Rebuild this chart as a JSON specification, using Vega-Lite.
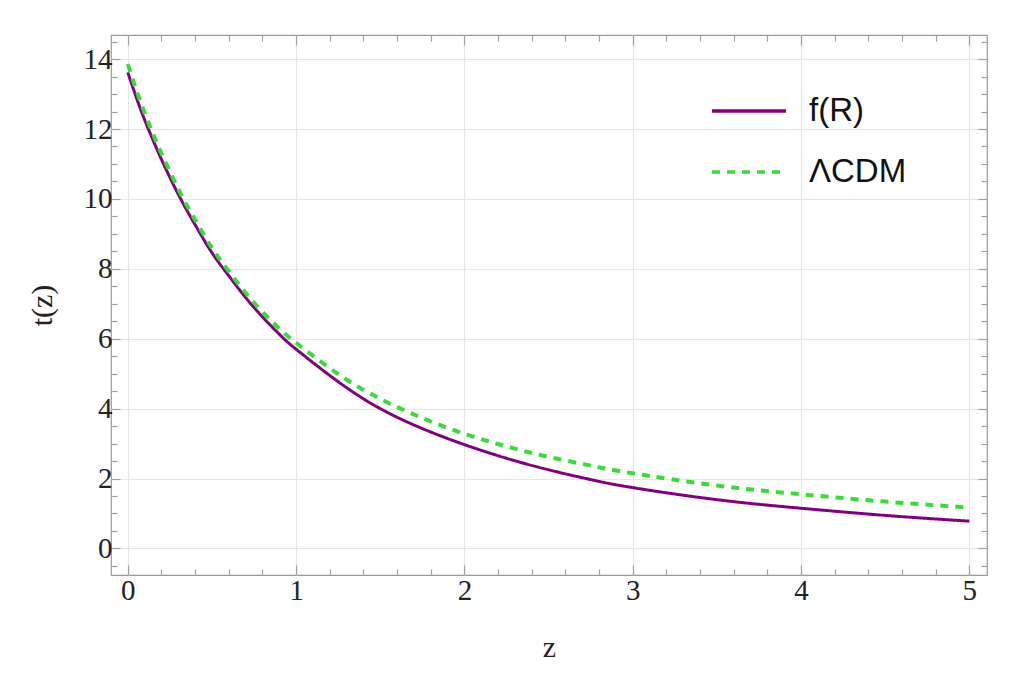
{
  "$schema": "https://vega.github.io/schema/vega-lite/v6.json",
  "width": 876,
  "height": 540,
  "autosize": "none",
  "padding": {"left": 111, "top": 35, "right": 37, "bottom": 101},
  "background": "white",
  "config": {
    "view": {"stroke": "#9a9a9a", "strokeWidth": 1.2},
    "axis": {"domain": false, "tickColor": "#a0a0a0", "tickWidth": 1.2}
  },
  "datasets": {
    "curves": [
      {"series": "f(R)", "z": 0, "t": 13.62},
      {"series": "f(R)", "z": 0.05, "t": 12.91},
      {"series": "f(R)", "z": 0.1, "t": 12.26},
      {"series": "f(R)", "z": 0.15, "t": 11.68},
      {"series": "f(R)", "z": 0.2, "t": 11.13},
      {"series": "f(R)", "z": 0.3, "t": 10.13},
      {"series": "f(R)", "z": 0.4, "t": 9.26},
      {"series": "f(R)", "z": 0.5, "t": 8.46},
      {"series": "f(R)", "z": 0.6, "t": 7.8},
      {"series": "f(R)", "z": 0.75, "t": 6.89},
      {"series": "f(R)", "z": 0.9, "t": 6.13},
      {"series": "f(R)", "z": 1.0, "t": 5.7},
      {"series": "f(R)", "z": 1.25, "t": 4.77},
      {"series": "f(R)", "z": 1.5, "t": 4.0},
      {"series": "f(R)", "z": 1.75, "t": 3.43},
      {"series": "f(R)", "z": 2.0, "t": 2.97},
      {"series": "f(R)", "z": 2.25, "t": 2.58},
      {"series": "f(R)", "z": 2.5, "t": 2.25},
      {"series": "f(R)", "z": 2.75, "t": 1.97},
      {"series": "f(R)", "z": 3.0, "t": 1.74},
      {"series": "f(R)", "z": 3.5, "t": 1.395},
      {"series": "f(R)", "z": 4.0, "t": 1.15},
      {"series": "f(R)", "z": 4.5, "t": 0.945},
      {"series": "f(R)", "z": 5.0, "t": 0.78},
      {"series": "ΛCDM", "z": 0, "t": 13.86},
      {"series": "ΛCDM", "z": 0.05, "t": 13.12},
      {"series": "ΛCDM", "z": 0.1, "t": 12.46},
      {"series": "ΛCDM", "z": 0.15, "t": 11.86},
      {"series": "ΛCDM", "z": 0.2, "t": 11.3},
      {"series": "ΛCDM", "z": 0.3, "t": 10.28},
      {"series": "ΛCDM", "z": 0.4, "t": 9.4},
      {"series": "ΛCDM", "z": 0.5, "t": 8.6},
      {"series": "ΛCDM", "z": 0.6, "t": 7.93},
      {"series": "ΛCDM", "z": 0.75, "t": 7.03},
      {"series": "ΛCDM", "z": 0.9, "t": 6.29},
      {"series": "ΛCDM", "z": 1.0, "t": 5.88},
      {"series": "ΛCDM", "z": 1.25, "t": 4.99},
      {"series": "ΛCDM", "z": 1.5, "t": 4.28},
      {"series": "ΛCDM", "z": 1.75, "t": 3.73},
      {"series": "ΛCDM", "z": 2.0, "t": 3.28},
      {"series": "ΛCDM", "z": 2.25, "t": 2.92},
      {"series": "ΛCDM", "z": 2.5, "t": 2.62},
      {"series": "ΛCDM", "z": 2.75, "t": 2.37},
      {"series": "ΛCDM", "z": 3.0, "t": 2.15},
      {"series": "ΛCDM", "z": 3.5, "t": 1.8},
      {"series": "ΛCDM", "z": 4.0, "t": 1.55},
      {"series": "ΛCDM", "z": 4.5, "t": 1.34},
      {"series": "ΛCDM", "z": 5.0, "t": 1.17}
    ]
  },
  "data": {"name": "curves"},
  "layer": [
    {
      "transform": [{"filter": "datum.series === 'f(R)'"}],
      "mark": {"type": "line", "interpolate": "natural", "strokeWidth": 3, "clip": true},
      "encoding": {
        "x": {
          "field": "z", "type": "quantitative",
          "scale": {"domain": [-0.1, 5.105], "nice": false, "zero": false},
          "axis": {
            "orient": "bottom",
            "values": [0, 0.2, 0.4, 0.6, 0.8, 1, 1.2, 1.4, 1.6, 1.8, 2, 2.2, 2.4, 2.6, 2.8, 3, 3.2, 3.4, 3.6, 3.8, 4, 4.2, 4.4, 4.6, 4.8, 5],
            "tickSize": {"condition": {"test": "datum.value % 1 === 0", "value": -10}, "value": -6},
            "grid": true,
            "gridColor": "#e6e6e6",
            "gridWidth": 1.2,
            "gridOpacity": {"condition": {"test": "datum.value % 1 === 0", "value": 1}, "value": 0},
            "labelExpr": "datum.value % 1 === 0 ? format(datum.value, 'd') : ''",
            "labelFont": "Liberation Serif",
            "labelFontSize": 29,
            "labelColor": "#222222",
            "labelPadding": 11,
            "labelOverlap": false,
            "labelFlush": false,
            "title": "z",
            "titleFont": "Liberation Serif",
            "titleFontSize": 30,
            "titleFontWeight": "normal",
            "titleColor": "#222222",
            "titleY": 81,
            "titleBaseline": "alphabetic"
          }
        },
        "y": {
          "field": "t", "type": "quantitative",
          "scale": {"domain": [-0.76, 14.69], "nice": false, "zero": false},
          "axis": {
            "orient": "left",
            "values": [-0.5, 0, 0.5, 1, 1.5, 2, 2.5, 3, 3.5, 4, 4.5, 5, 5.5, 6, 6.5, 7, 7.5, 8, 8.5, 9, 9.5, 10, 10.5, 11, 11.5, 12, 12.5, 13, 13.5, 14, 14.5],
            "tickSize": {"condition": {"test": "datum.value % 2 === 0", "value": -9}, "value": -6},
            "grid": true,
            "gridColor": "#e6e6e6",
            "gridWidth": 1.2,
            "gridOpacity": {"condition": {"test": "datum.value % 2 === 0", "value": 1}, "value": 0},
            "labelExpr": "datum.value % 2 === 0 ? format(datum.value, 'd') : ''",
            "labelFont": "Liberation Serif",
            "labelFontSize": 29,
            "labelColor": "#222222",
            "labelPadding": 8,
            "labelOverlap": false,
            "labelFlush": false,
            "title": "t(z)",
            "titleFont": "Liberation Serif",
            "titleFontSize": 30,
            "titleFontWeight": "normal",
            "titleColor": "#222222",
            "titleX": -60,
            "titleY": 270,
            "titleAngle": -90,
            "titleAlign": "center",
            "titleBaseline": "alphabetic"
          }
        },
        "color": {
          "field": "series", "type": "nominal",
          "scale": {"domain": ["f(R)", "ΛCDM"], "range": ["#800080", "#38dc38"]},
          "legend": {
            "orient": "none", "legendX": 599, "legendY": 37, "title": null,
            "padding": 0, "symbolType": "stroke", "symbolSize": 5476, "symbolStrokeWidth": 3.5,
            "labelFont": "Liberation Sans", "labelFontSize": 33, "labelColor": "#111111",
            "labelOffset": 21, "rowPadding": 5
          }
        },
        "strokeDash": {
          "field": "series", "type": "nominal",
          "scale": {"domain": ["f(R)", "ΛCDM"], "range": [[1, 0], [8, 7]]},
          "legend": {
            "orient": "none", "legendX": 599, "legendY": 37, "title": null,
            "padding": 0, "symbolType": "stroke", "symbolSize": 5476, "symbolStrokeWidth": 3.5,
            "labelFont": "Liberation Sans", "labelFontSize": 33, "labelColor": "#111111",
            "labelOffset": 21, "rowPadding": 5
          }
        }
      }
    },
    {
      "transform": [{"filter": "datum.series === 'ΛCDM'"}],
      "mark": {"type": "line", "interpolate": "natural", "strokeWidth": 4, "clip": true},
      "encoding": {
        "x": {
          "field": "z", "type": "quantitative",
          "scale": {"domain": [-0.1, 5.105], "nice": false, "zero": false},
          "axis": {
            "orient": "top",
            "values": [0, 0.2, 0.4, 0.6, 0.8, 1, 1.2, 1.4, 1.6, 1.8, 2, 2.2, 2.4, 2.6, 2.8, 3, 3.2, 3.4, 3.6, 3.8, 4, 4.2, 4.4, 4.6, 4.8, 5],
            "tickSize": {"condition": {"test": "datum.value % 1 === 0", "value": -10}, "value": -6},
            "grid": false, "labels": false, "title": null
          }
        },
        "y": {
          "field": "t", "type": "quantitative",
          "scale": {"domain": [-0.76, 14.69], "nice": false, "zero": false},
          "axis": {
            "orient": "right",
            "values": [-0.5, 0, 0.5, 1, 1.5, 2, 2.5, 3, 3.5, 4, 4.5, 5, 5.5, 6, 6.5, 7, 7.5, 8, 8.5, 9, 9.5, 10, 10.5, 11, 11.5, 12, 12.5, 13, 13.5, 14, 14.5],
            "tickSize": {"condition": {"test": "datum.value % 2 === 0", "value": -9}, "value": -6},
            "grid": false, "labels": false, "title": null
          }
        },
        "color": {
          "field": "series", "type": "nominal",
          "scale": {"domain": ["f(R)", "ΛCDM"], "range": ["#800080", "#38dc38"]}
        },
        "strokeDash": {
          "field": "series", "type": "nominal",
          "scale": {"domain": ["f(R)", "ΛCDM"], "range": [[1, 0], [8, 7]]}
        }
      }
    }
  ],
  "resolve": {"axis": {"x": "independent", "y": "independent"}}
}
